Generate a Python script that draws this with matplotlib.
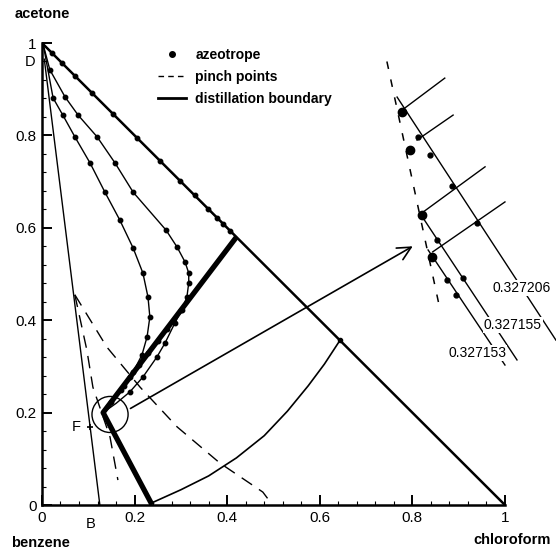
import matplotlib
matplotlib.use("Agg")
import matplotlib.pyplot as plt
from matplotlib.patches import Circle
from matplotlib.lines import Line2D

plt.rcParams['font.family'] = ['Liberation Sans', 'DejaVu Sans']

# ---- data (x = chloroform, y = acetone) ----
# residue curve running down the acetone-chloroform edge
hyp_x = [0.022, 0.043, 0.071, 0.108, 0.153, 0.205, 0.255, 0.298, 0.330, 0.359, 0.378, 0.391, 0.406]
hyp_y = [0.978, 0.957, 0.929, 0.892, 0.847, 0.795, 0.745, 0.702, 0.670, 0.641, 0.622, 0.609, 0.594]

# outer and inner residue curves
outer_x = [0.003, 0.017, 0.050, 0.078, 0.119, 0.158, 0.197, 0.268, 0.292, 0.309, 0.317, 0.317,
           0.313, 0.302, 0.287, 0.266, 0.248, 0.218, 0.190, 0.160, 0.132]
outer_y = [0.995, 0.942, 0.883, 0.844, 0.797, 0.740, 0.677, 0.595, 0.558, 0.526, 0.502, 0.481,
           0.450, 0.422, 0.394, 0.351, 0.320, 0.277, 0.245, 0.220, 0.200]
inner_x = [0.003, 0.024, 0.045, 0.071, 0.104, 0.136, 0.168, 0.197, 0.218, 0.229, 0.233, 0.227,
           0.216, 0.197, 0.178, 0.155, 0.132]
inner_y = [0.995, 0.881, 0.844, 0.797, 0.740, 0.677, 0.617, 0.556, 0.502, 0.450, 0.407, 0.364,
           0.325, 0.288, 0.258, 0.228, 0.200]

# distillation boundary (azeotrope -> kink -> benzene-chloroform edge)
bound_x = [0.42, 0.132, 0.238]
bound_y = [0.58, 0.200, 0.0]
bmark_x = [0.30, 0.27, 0.25, 0.23, 0.21, 0.19, 0.17, 0.15]
bmark_y = [0.422, 0.382, 0.356, 0.329, 0.303, 0.277, 0.250, 0.224]

# pinch point curves
pinch1_x = [0.071, 0.140, 0.212, 0.292, 0.384, 0.477, 0.495]
pinch1_y = [0.455, 0.342, 0.255, 0.169, 0.091, 0.028, 0.004]
pinch2_x = [0.071, 0.097, 0.110, 0.147, 0.164]
pinch2_y = [0.455, 0.335, 0.255, 0.147, 0.054]

# curve from the bottom edge up to the hypotenuse
low_x = [0.238, 0.300, 0.360, 0.420, 0.480, 0.530, 0.575, 0.610, 0.644]
low_y = [0.005, 0.033, 0.063, 0.102, 0.150, 0.203, 0.258, 0.305, 0.357]

# mass balance line D-F-B
db_x = [0.005, 0.125]
db_y = [0.965, 0.0]
F_x, F_y = 0.104, 0.169

# magnified view (drawn to the right of the triangle)
zoom_dash_x = [0.745, 0.860]
zoom_dash_y = [0.960, 0.422]
zl1_x = [0.767, 1.110]
zl1_y = [0.883, 0.357]
zl2_x = [0.816, 1.026]
zl2_y = [0.632, 0.314]
zl3_x = [0.834, 1.000]
zl3_y = [0.552, 0.303]
tie_x = [[0.778, 0.870], [0.810, 0.888], [0.823, 0.957], [0.844, 1.000]]
tie_y = [[0.855, 0.924], [0.790, 0.844], [0.634, 0.732], [0.548, 0.656]]
zpt_x = [0.812, 0.838, 0.886, 0.853, 0.940, 0.875, 0.894, 0.909]
zpt_y = [0.797, 0.758, 0.690, 0.574, 0.610, 0.487, 0.455, 0.491]
blob_x = [0.778, 0.795, 0.821, 0.842]
blob_y = [0.851, 0.768, 0.628, 0.537]
zlabels = ['0.327206', '0.327155', '0.327153']
zlab_x = [1.036, 1.017, 0.940]
zlab_y = [0.470, 0.390, 0.329]

fig = plt.figure(figsize=(5.56, 5.50), dpi=100)
ax = fig.add_axes([0.0755, 0.0818, 0.8327, 0.84])
ax.set_xlim(0, 1)
ax.set_ylim(0, 1)

for s in ['top', 'right']:
    ax.spines[s].set_visible(False)
for s in ['left', 'bottom']:
    ax.spines[s].set_linewidth(1.8)

ax.set_xticks([0, 0.2, 0.4, 0.6, 0.8, 1.0])
ax.set_xticklabels(['0', '0.2', '0.4', '0.6', '0.8', '1'])
ax.set_yticks([0, 0.2, 0.4, 0.6, 0.8, 1.0])
ax.set_yticklabels(['0', '0.2', '0.4', '0.6', '0.8', '1'])
ax.set_xticks([i * 0.04 for i in range(26)], minor=True)
ax.set_yticks([i * 0.04 for i in range(26)], minor=True)
ax.tick_params(which='major', direction='in', length=7, width=1.4, labelsize=11, pad=4)
ax.tick_params(which='minor', direction='in', length=3, width=0.8)

# hypotenuse
ax.plot([0, 1], [1, 0], color='k', lw=1.8)

mk = dict(marker='o', ms=3.2, mfc='k', mec='k')
ax.plot([0.0] + hyp_x + [0.42], [1.0] + hyp_y + [0.58], color='k', lw=1.0, **mk, markevery=list(range(1, 14)))
ax.plot(outer_x, outer_y, color='k', lw=1.0, **mk, markevery=list(range(1, 19)))
ax.plot(inner_x, inner_y, color='k', lw=1.0, **mk, markevery=list(range(1, 15)))

ax.plot(bound_x, bound_y, color='k', lw=3.8, solid_capstyle='butt')
ax.plot(bmark_x, bmark_y, ls='none', **mk)

ax.plot(pinch1_x, pinch1_y, color='k', lw=1.0, ls=(0, (9, 6)))
ax.plot(pinch2_x, pinch2_y, color='k', lw=1.0, ls=(0, (9, 6)))

ax.plot(low_x, low_y, color='k', lw=1.2)
ax.plot([low_x[-1]], [low_y[-1]], ls='none', marker='o', ms=3, color='k')

ax.plot(db_x, db_y, color='k', lw=1.0)
ax.plot([F_x], [F_y], ls='none', marker='+', ms=5, mew=1.2, color='k')

ax.add_patch(Circle((0.147, 0.196), 0.039, fill=False, ec='k', lw=1.0))
ax.annotate('', xy=(0.806, 0.563), xytext=(0.186, 0.206),
            arrowprops=dict(arrowstyle='->', color='k', lw=1.2, mutation_scale=24))

# magnified view
ax.plot(zoom_dash_x, zoom_dash_y, color='k', lw=1.1, ls=(0, (5, 7)), clip_on=False)
for xs, ys in [(zl1_x, zl1_y), (zl2_x, zl2_y), (zl3_x, zl3_y)]:
    ax.plot(xs, ys, color='k', lw=1.0, clip_on=False)
for xs, ys in zip(tie_x, tie_y):
    ax.plot(xs, ys, color='k', lw=1.0, clip_on=False)
ax.plot(zpt_x, zpt_y, ls='none', marker='o', ms=3.5, color='k', clip_on=False)
ax.plot(blob_x, blob_y, ls='none', marker='o', ms=6, color='k', clip_on=False)
for t, x, y in zip(zlabels, zlab_x, zlab_y):
    ax.text(x, y, t, fontsize=10, ha='center', va='center', clip_on=False,
            bbox=dict(facecolor='white', edgecolor='none', pad=0.5))

# labels
ax.text(-0.026, 0.959, 'D', fontsize=10.5, ha='center', va='center')
ax.text(0.104, -0.025, 'B', fontsize=10.5, ha='center', va='top')
ax.text(0.075, 0.169, 'F', fontsize=10.5, ha='center', va='center')
fig.text(42 / 556, 1 - 14 / 550, 'acetone', fontsize=10.5, fontweight='bold', ha='center', va='center')
fig.text(40 / 556, 1 - 543 / 550, 'benzene', fontsize=10.5, fontweight='bold', ha='center', va='center')
fig.text(512 / 556, 1 - 540 / 550, 'chloroform', fontsize=10.5, fontweight='bold', ha='center', va='center')

handles = [Line2D([], [], marker='o', ls='none', color='k', ms=4),
           Line2D([], [], color='k', lw=1.0, ls=(0, (4, 3))),
           Line2D([], [], color='k', lw=2.0)]
ax.legend(handles, ['azeotrope', 'pinch points', 'distillation boundary'],
          loc='upper left', bbox_to_anchor=(0.25, 0.99), frameon=False,
          borderpad=0, borderaxespad=0, handlelength=2.0, handletextpad=0.7,
          labelspacing=0.6, prop={'size': 10, 'weight': 'bold'})

fig.savefig('out.png', dpi=100)
